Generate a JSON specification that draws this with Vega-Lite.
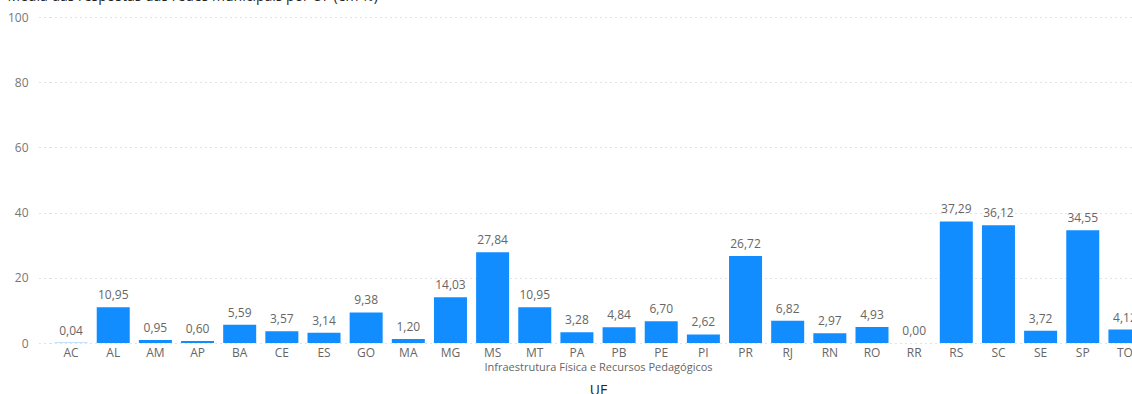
{
  "$schema": "https://vega.github.io/schema/vega-lite/v6.json",
  "autosize": "none",
  "width": 1082,
  "height": 326,
  "padding": {"left": 50, "top": 17, "right": 0, "bottom": 51},
  "background": "white",
  "title": {
    "text": "Média das respostas das redes municipais por UF (em %)",
    "anchor": "start",
    "frame": "bounds",
    "fontSize": 14,
    "fontWeight": "normal",
    "color": "#252423",
    "font": "Open Sans",
    "offset": 7
  },
  "config": {
    "locale": {"number": {"decimal": ",", "thousands": ".", "grouping": [3], "currency": ["R$", ""]}},
    "view": {"stroke": null},
    "font": "Open Sans"
  },
  "data": {
    "values": [
      {"UF": "AC", "valor": 0.04},
      {"UF": "AL", "valor": 10.95},
      {"UF": "AM", "valor": 0.95},
      {"UF": "AP", "valor": 0.60},
      {"UF": "BA", "valor": 5.59},
      {"UF": "CE", "valor": 3.57},
      {"UF": "ES", "valor": 3.14},
      {"UF": "GO", "valor": 9.38},
      {"UF": "MA", "valor": 1.20},
      {"UF": "MG", "valor": 14.03},
      {"UF": "MS", "valor": 27.84},
      {"UF": "MT", "valor": 10.95},
      {"UF": "PA", "valor": 3.28},
      {"UF": "PB", "valor": 4.84},
      {"UF": "PE", "valor": 6.70},
      {"UF": "PI", "valor": 2.62},
      {"UF": "PR", "valor": 26.72},
      {"UF": "RJ", "valor": 6.82},
      {"UF": "RN", "valor": 2.97},
      {"UF": "RO", "valor": 4.93},
      {"UF": "RR", "valor": 0.00},
      {"UF": "RS", "valor": 37.29},
      {"UF": "SC", "valor": 36.12},
      {"UF": "SE", "valor": 3.72},
      {"UF": "SP", "valor": 34.55},
      {"UF": "TO", "valor": 4.12}
    ]
  },
  "encoding": {
    "y": {
      "field": "valor",
      "type": "quantitative",
      "scale": {"domain": [0, 100], "nice": false},
      "axis": {
        "title": null,
        "values": [0, 20, 40, 60, 80, 100],
        "grid": true,
        "gridDash": [1, 4],
        "gridColor": "#C8C6C4",
        "gridWidth": 1,
        "domain": false,
        "ticks": true,
        "tickSize": 15,
        "tickDash": [1, 4],
        "tickColor": "#C8C6C4",
        "labelPadding": 7,
        "labelFontSize": 12,
        "labelColor": "#777777",
        "labelFont": "Open Sans"
      }
    }
  },
  "layer": [
    {
      "mark": {"type": "bar", "color": "#118DFF"},
      "encoding": {
        "x": {
          "field": "UF",
          "type": "nominal",
          "sort": null,
          "scale": {"range": [0, 1096], "paddingInner": 0.217, "paddingOuter": 0.1085},
          "axis": {
            "orient": "bottom",
            "labelAngle": 0,
            "labelFontSize": 12,
            "labelColor": "#666666",
            "labelFont": "Open Sans",
            "labelPadding": 4,
            "ticks": false,
            "domain": false,
            "title": "Infraestrutura Física e Recursos Pedagógicos",
            "titleFontSize": 11,
            "titleFontWeight": "normal",
            "titleColor": "#666666",
            "titleFont": "Open Sans",
            "titlePadding": 3
          }
        }
      }
    },
    {
      "mark": {"type": "text", "baseline": "alphabetic", "dy": -8, "fontSize": 12, "color": "#666666", "font": "Open Sans"},
      "encoding": {
        "x": {
          "field": "UF",
          "type": "nominal",
          "sort": null,
          "axis": {
            "orient": "bottom",
            "labels": false,
            "ticks": false,
            "domain": false,
            "grid": false,
            "title": "UF",
            "titleFontSize": 14,
            "titleFontWeight": "normal",
            "titleColor": "#252423",
            "titleFont": "Open Sans",
            "titlePadding": 40
          }
        },
        "text": {"field": "valor", "type": "quantitative", "format": ".2f"}
      }
    }
  ],
  "resolve": {"axis": {"x": "independent"}}
}
